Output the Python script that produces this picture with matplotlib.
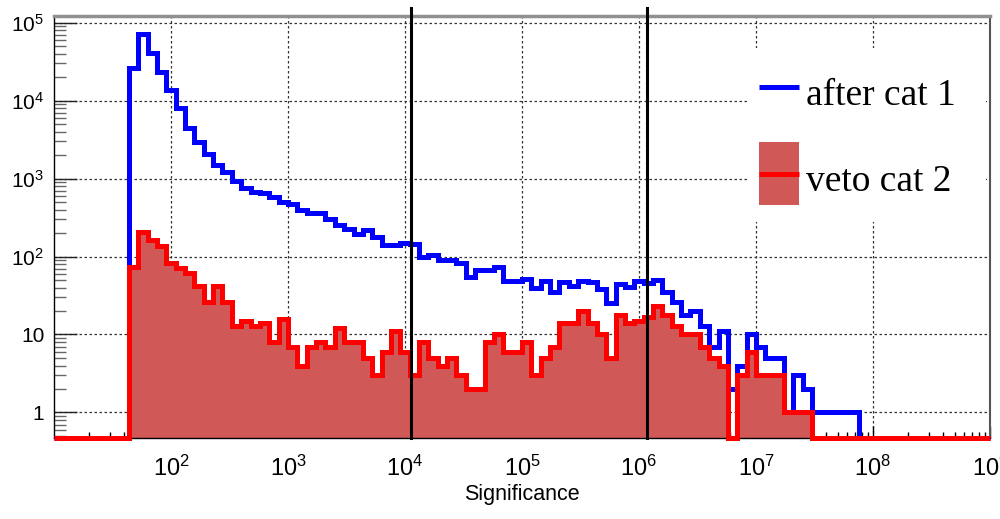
import numpy as np
import matplotlib
matplotlib.use("Agg")
import matplotlib.pyplot as plt
from matplotlib.lines import Line2D
from matplotlib.patches import Rectangle
from matplotlib.ticker import FixedLocator, FixedFormatter, LogLocator, NullFormatter

# 100 equal bins in log10(significance), from 10 to 1e9
log_lo, log_hi, n_bins = 1.0, 9.0, 100

after_cat1 = [
    0, 0, 0, 0, 0, 0, 0, 0,
    26000, 71000, 41000, 23000, 13900, 8050, 4450, 2990, 2050, 1490,
    1200, 940, 750, 680, 650, 584, 503, 478, 393, 366,
    366, 306, 251, 228, 196, 217, 178, 139, 139, 149,
    146, 98, 106, 89, 89, 83, 54, 68, 68, 73,
    48, 48, 52, 40, 48, 35, 47, 42, 49, 47,
    38, 25, 44, 41, 48, 46, 50, 35, 26, 18,
    20, 13, 7, 11, 2, 4, 10, 7, 5, 5,
    1, 3, 2, 1, 1, 1, 1, 1,
    0, 0, 0, 0, 0, 0, 0, 0, 0, 0, 0, 0, 0, 0,
]

veto_cat2 = [
    0, 0, 0, 0, 0, 0, 0, 0,
    73, 206, 161, 135, 82, 71, 61, 42, 26, 42,
    26, 13, 15, 13, 14, 8, 16, 7, 4, 7,
    8, 7, 12, 8, 8, 5, 3, 6, 11, 6,
    3, 8, 5, 4, 5, 3, 2, 2, 8, 10,
    6, 6, 8, 3, 5, 7, 14, 14, 20, 14,
    10, 5, 18, 14, 15, 17, 23, 18, 13, 10,
    10, 7, 5, 4, 0, 3, 6, 3, 3, 3,
    1, 1, 1,
    0, 0, 0, 0, 0, 0, 0, 0, 0, 0, 0, 0, 0, 0, 0, 0, 0, 0, 0,
]

series_labels = ["after cat 1", "veto cat 2"]
cut_values = [1.12e4, 1.17e6]

x_tick_values = [1e2, 1e3, 1e4, 1e5, 1e6, 1e7, 1e8, 1e9]
x_tick_labels = [r"$\mathregular{10^{%d}}$" % k for k in range(2, 10)]
y_tick_values = [1, 10, 1e2, 1e3, 1e4, 1e5]
y_tick_labels = ["1", "10", r"$\mathregular{10^{2}}$", r"$\mathregular{10^{3}}$",
                 r"$\mathregular{10^{4}}$", r"$\mathregular{10^{5}}$"]
x_title = "Significance"

y_min, y_max = 0.47, 1.22e5

W, H = 1000, 519
blue = "#0000ff"
red = "#ff0000"
fill_red = "#d05856"
sans = "Liberation Sans"
serif = "Liberation Serif"


def fig_xy(px, py):
    """Pixel position (from top-left) to figure fraction."""
    return px / W, 1 - py / H


edges = np.logspace(log_lo, log_hi, n_bins + 1)
after = np.asarray(after_cat1, dtype=float)
veto = np.asarray(veto_cat2, dtype=float)
# empty bins sit on the bottom of the log axis
after_draw = np.where(after > 0, after, y_min)
veto_draw = np.where(veto > 0, veto, y_min)

fig = plt.figure(figsize=(W / 100, H / 100), dpi=100)
ax = fig.add_axes([0.054, 0.1561, 0.936, 0.8131])
ax.set_xscale("log")
ax.set_yscale("log")
ax.set_xlim(edges[0], edges[-1])
ax.set_ylim(y_min, y_max)

ax.set_axisbelow(True)
ax.grid(True, which="major", color="#333333", lw=0.9, ls=(0, (2, 2)))

# white backdrop behind the legend block
ax.add_patch(Rectangle((0.7415, 0.5118), 0.2543, 0.4123, transform=ax.transAxes,
                       facecolor="white", edgecolor="none", zorder=1.5))

ax.stairs(veto_draw, edges, baseline=y_min, fill=True, color=fill_red, lw=0, zorder=2)
ax.stairs(after_draw, edges, baseline=y_min, color=blue, lw=3.6, zorder=3, clip_on=False)
ax.stairs(veto_draw, edges, baseline=y_min, color=red, lw=3.6, zorder=4, clip_on=False)

xaxis_tr = ax.get_xaxis_transform()
for c in cut_values:
    ax.plot([c, c], [0, 1.019], transform=xaxis_tr, color="black", lw=2.2,
            zorder=5, clip_on=False)

ax.xaxis.set_major_locator(FixedLocator(x_tick_values))
ax.xaxis.set_major_formatter(FixedFormatter(x_tick_labels))
ax.xaxis.set_minor_locator(LogLocator(base=10, subs=np.arange(2, 10), numticks=30))
ax.xaxis.set_minor_formatter(NullFormatter())
ax.yaxis.set_major_locator(FixedLocator(y_tick_values))
ax.yaxis.set_major_formatter(FixedFormatter(y_tick_labels))
ax.yaxis.set_minor_locator(LogLocator(base=10, subs=np.arange(2, 10), numticks=30))
ax.yaxis.set_minor_formatter(NullFormatter())

ax.tick_params(axis="both", which="both", direction="in", top=False, right=False)
ax.tick_params(axis="y", which="major", length=16.5, width=1, color="#222222", pad=7)
ax.tick_params(axis="y", which="minor", length=8.5, width=1, color="#666666")
ax.tick_params(axis="x", which="major", length=9, width=1, pad=13)
ax.tick_params(axis="x", which="minor", length=4, width=1)

for lab in ax.get_yticklabels():
    lab.set_fontfamily(sans)
    lab.set_fontsize(15)
for lab in ax.get_xticklabels():
    lab.set_fontfamily(sans)
    lab.set_fontsize(17)

ax.set_xlabel(x_title, fontfamily=sans, fontsize=15.5, labelpad=2)

ax.spines["top"].set_color("#909090")
ax.spines["top"].set_linewidth(2.5)
ax.spines["right"].set_color("#555555")
ax.spines["right"].set_linewidth(1.5)
ax.spines["left"].set_linewidth(1)
ax.spines["bottom"].set_linewidth(1)

# legend block: line key, filled key with outline colour, serif labels
tf = fig.transFigure
x0, y0 = fig_xy(759, 87)
x1, _ = fig_xy(799, 87)
fig.add_artist(Line2D([x0, x1], [y0, y0], transform=tf, color=blue, lw=3.6,
                      solid_capstyle="butt"))
rx, ry = fig_xy(759, 205)
fig.add_artist(Rectangle((rx, ry), 40 / W, 63 / H, transform=tf,
                         facecolor=fill_red, edgecolor="none"))
_, yr = fig_xy(0, 174)
fig.add_artist(Line2D([x0, x1], [yr, yr], transform=tf, color=red, lw=3.6,
                      solid_capstyle="butt"))

for label, py in zip(series_labels, [105, 191]):
    tx, ty = fig_xy(806, py)
    fig.text(tx, ty, label, fontfamily=serif, fontsize=27, va="baseline",
             ha="left", color="black")

fig.savefig("out.png", dpi=100)
